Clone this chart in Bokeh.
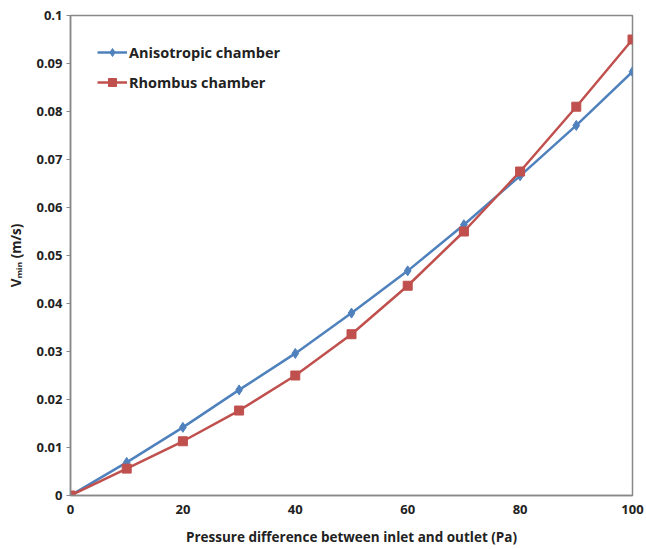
from bokeh.plotting import figure
from bokeh.embed import file_html
from bokeh.resources import INLINE
from bokeh.models import Range1d, FixedTicker, Legend, LegendItem

pressure = [0, 10, 20, 30, 40, 50, 60, 70, 80, 90, 100]
anisotropic = [0, 0.0069, 0.0142, 0.0220, 0.0296, 0.0380, 0.0468, 0.0564, 0.0666, 0.0771, 0.0883]
rhombus = [0, 0.0056, 0.0113, 0.0177, 0.0250, 0.0336, 0.0437, 0.0550, 0.0675, 0.0810, 0.0950]
x_ticks = [0, 20, 40, 60, 80, 100]
y_ticks = [0, 0.01, 0.02, 0.03, 0.04, 0.05, 0.06, 0.07, 0.08, 0.09, 0.1]
y_tick_labels = ["0", "0.01", "0.02", "0.03", "0.04", "0.05", "0.06", "0.07", "0.08", "0.09", "0.1"]

BLUE = "#4F81BD"
RED = "#C0504D"
FONT = "Open Sans"

p = figure(width=646, height=549, output_backend="svg", toolbar_location=None,
           x_range=Range1d(0, 100), y_range=Range1d(0, 0.1),
           min_border_left=70, min_border_right=14, min_border_top=15, min_border_bottom=54)
p.background_fill_color = "white"
p.border_fill_color = "white"
p.outline_line_color = "#888888"
p.outline_line_width = 1.5
p.xgrid.visible = False
p.ygrid.visible = False

for ax in (p.xaxis, p.yaxis):
    ax.axis_line_color = "#888888"
    ax.axis_line_width = 1.5
    ax.major_tick_line_color = "#888888"
    ax.minor_tick_line_color = None
    ax.major_label_text_font = FONT
    ax.major_label_text_font_style = "bold"
    ax.major_label_text_font_size = "13px"
    ax.major_label_text_color = "#222222"
    ax.axis_label_text_font = FONT
    ax.axis_label_text_font_style = "bold"
    ax.axis_label_text_font_size = "13.5px"
    ax.axis_label_text_color = "#222222"

p.xaxis.ticker = FixedTicker(ticks=x_ticks)
p.xaxis.major_tick_in = 0
p.xaxis.major_tick_out = 0
p.xaxis.major_label_standoff = 9
p.xaxis.axis_label = "Pressure difference between inlet and outlet (Pa)"
p.xaxis.axis_label_standoff = 11

p.yaxis.ticker = FixedTicker(ticks=y_ticks)
p.yaxis.major_label_overrides = {t: l for t, l in zip(y_ticks, y_tick_labels)}
p.yaxis.major_tick_in = 0
p.yaxis.major_tick_out = 4
p.yaxis.major_label_standoff = 4
p.yaxis.axis_label = "V\u2098\u1d62\u2099 (m/s)"
p.yaxis.axis_label_standoff = 8

l1 = p.line(pressure, anisotropic, line_color=BLUE, line_width=2.5)
m1 = p.scatter(pressure, anisotropic, marker="diamond", size=10, fill_color=BLUE, line_color=BLUE)
l2 = p.line(pressure, rhombus, line_color=RED, line_width=2.5)
m2 = p.scatter(pressure, rhombus, marker="square", size=9, fill_color=RED, line_color=RED)

legend = Legend(items=[LegendItem(label="Anisotropic chamber", renderers=[l1, m1]),
                       LegendItem(label="Rhombus chamber", renderers=[l2, m2])],
                location="top_left")
legend.border_line_color = None
legend.background_fill_alpha = 0
legend.label_text_font = FONT
legend.label_text_font_style = "bold"
legend.label_text_font_size = "14.5px"
legend.label_text_color = "#222222"
legend.glyph_width = 30
legend.label_standoff = 2
legend.spacing = 10
legend.margin = 27
legend.padding = 6
p.add_layout(legend)

open("out.html", "w").write(file_html(p, INLINE))
